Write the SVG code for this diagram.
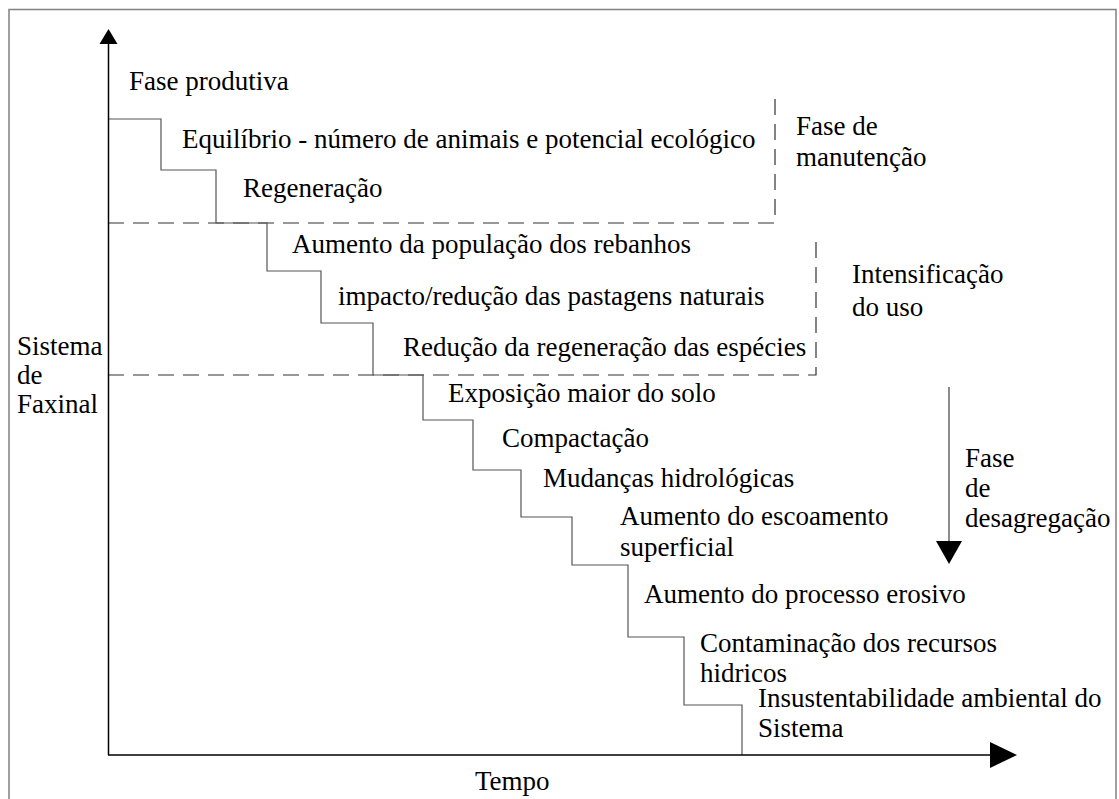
<svg xmlns="http://www.w3.org/2000/svg" width="1119" height="799" viewBox="0 0 1119 799" font-family="'Liberation Serif', 'DejaVu Serif', serif">
  <style>
    text { font-family: 'Liberation Serif', 'DejaVu Serif', serif; font-size: 27px; fill: #000; }
    .frame { fill: none; stroke: #808080; stroke-width: 1.5; }
    .axis { fill: none; stroke: #000; stroke-width: 1.5; }
    .head { fill: #000; stroke: none; }
    .stair { fill: none; stroke: #555; stroke-width: 1.2; }
    .phase { fill: none; stroke: #333; stroke-width: 1.2; stroke-dasharray: 16 9; }
    .down { fill: none; stroke: #666; stroke-width: 1.5; }
  </style>

  <rect id="frame" class="frame" x="9" y="9.5" width="1107" height="800"/>

  <g id="connectors">
    <!-- phase boundaries (dashed) -->
    <path class="phase" d="M108,223 H775 V93"/>
    <path class="phase" d="M108,375 H816 V237"/>
    <!-- descending staircase -->
    <path class="stair" d="M108,119 H161 V170 H216 V223 H267 V271 H321 V323 H373 V375 H423 V420 H473 V470 H521 V517 H572 V565 H628 V637 H684 V705 H742 V755"/>
    <!-- axes -->
    <line class="axis" x1="108.5" y1="42" x2="108.5" y2="755"/>
    <polygon class="head" points="108.5,29 99.5,44 117.5,44"/>
    <line class="axis" x1="108" y1="755" x2="992" y2="755"/>
    <polygon class="head" points="1017,755 990,742 990,768"/>
    <!-- disaggregation direction -->
    <line class="down" x1="949" y1="387" x2="949" y2="543"/>
    <polygon class="head" points="949,564 936,541 962,541"/>
  </g>

  <g id="axis-labels">
    <text x="17" y="355">Sistema</text>
    <text x="17" y="384">de</text>
    <text x="17" y="413">Faxinal</text>
    <text x="475" y="790">Tempo</text>
  </g>

  <g id="phase-productive">
    <text x="129" y="90">Fase produtiva</text>
    <text x="182" y="148">Equilíbrio - número de animais e potencial ecológico</text>
    <text x="243" y="197">Regeneração</text>
  </g>

  <g id="phase-maintenance">
    <text x="796" y="135">Fase de</text>
    <text x="796" y="166">manutenção</text>
  </g>

  <g id="phase-intensification">
    <text x="292" y="253">Aumento da população dos rebanhos</text>
    <text x="338" y="305">impacto/redução das pastagens naturais</text>
    <text x="403" y="356">Redução da regeneração das espécies</text>
    <text x="852" y="283">Intensificação</text>
    <text x="852" y="316">do uso</text>
  </g>

  <g id="phase-disaggregation">
    <text x="448" y="402">Exposição maior do solo</text>
    <text x="502" y="447">Compactação</text>
    <text x="543" y="487">Mudanças hidrológicas</text>
    <text x="620" y="525">Aumento do escoamento</text>
    <text x="620" y="556">superficial</text>
    <text x="644" y="603">Aumento do processo erosivo</text>
    <text x="700" y="652">Contaminação dos recursos</text>
    <text x="700" y="682">hidricos</text>
    <text x="758" y="707">Insustentabilidade ambiental do</text>
    <text x="758" y="737">Sistema</text>
    <text x="965" y="467">Fase</text>
    <text x="965" y="497">de</text>
    <text x="965" y="527">desagregação</text>
  </g>
</svg>
